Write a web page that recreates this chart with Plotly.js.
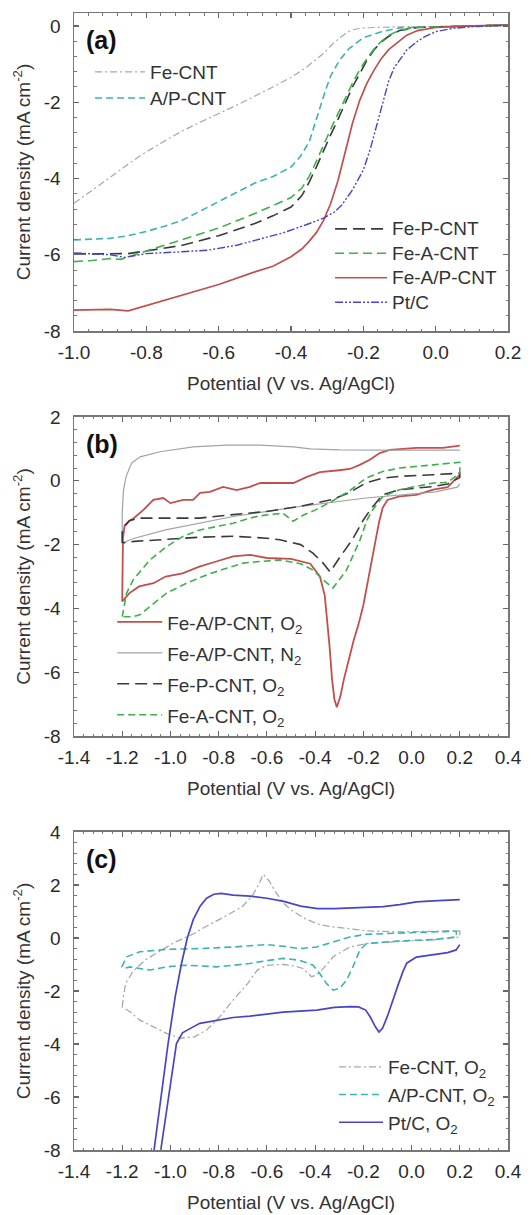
<!DOCTYPE html>
<html><head><meta charset="utf-8">
<script src="https://cdn.plot.ly/plotly-3.0.1.min.js"></script>
<style>html,body{margin:0;padding:0;background:#fff;} #chart{width:531px;height:1215px;}</style>
</head><body><div id="chart"></div>
<script>
// ---------- Tick labels ----------
const xTicksA = [-1.0,-0.8,-0.6,-0.4,-0.2,0.0,0.2];
const xTickTextA = ['-1.0','-0.8','-0.6','-0.4','-0.2','0.0','0.2'];
const yTicksA = [0,-2,-4,-6,-8];
const yTickTextA = ['0','-2','-4','-6','-8'];
const xTicksBC = [-1.4,-1.2,-1.0,-0.8,-0.6,-0.4,-0.2,0.0,0.2,0.4];
const xTickTextBC = ['-1.4','-1.2','-1.0','-0.8','-0.6','-0.4','-0.2','0.0','0.2','0.4'];
const yTicksB = [2,0,-2,-4,-6,-8];
const yTickTextB = ['2','0','-2','-4','-6','-8'];
const yTicksC = [4,2,0,-2,-4,-6,-8];
const yTickTextC = ['4','2','0','-2','-4','-6','-8'];

// ---------- Panel (a): LSV curves ----------
const aFeCNT_V = [-1.0,-0.95,-0.9,-0.85,-0.8,-0.75,-0.7,-0.65,-0.6,-0.54,-0.45,-0.4,-0.36,-0.33,-0.31,-0.29,-0.265,-0.245,-0.23,-0.2,-0.15,-0.1,0,0.1,0.2];
const aFeCNT_J = [-4.65,-4.32,-3.97,-3.62,-3.3,-3.02,-2.75,-2.52,-2.3,-2.03,-1.6,-1.35,-1.1,-0.88,-0.72,-0.52,-0.31,-0.17,-0.1,-0.05,-0.03,-0.02,-0.02,0,0.02];

const aAPCNT_V = [-1.0,-0.9,-0.85,-0.8,-0.75,-0.7,-0.65,-0.6,-0.54,-0.5,-0.45,-0.4,-0.375,-0.35,-0.335,-0.32,-0.305,-0.29,-0.265,-0.24,-0.2,-0.15,-0.1,0,0.1,0.2];
const aAPCNT_J = [-5.61,-5.57,-5.5,-5.39,-5.25,-5.09,-4.85,-4.6,-4.3,-4.12,-3.95,-3.7,-3.43,-3.05,-2.6,-2.12,-1.7,-1.3,-0.89,-0.6,-0.31,-0.15,-0.05,-0.02,0,0.02];

const aFePCNT_V = [-1.0,-0.9,-0.85,-0.8,-0.7,-0.6,-0.5,-0.45,-0.4,-0.37,-0.35,-0.33,-0.31,-0.29,-0.27,-0.25,-0.23,-0.21,-0.19,-0.17,-0.15,-0.13,-0.1,-0.05,0,0.1,0.2];
const aFePCNT_J = [-5.98,-5.98,-5.97,-5.9,-5.75,-5.5,-5.18,-4.98,-4.75,-4.45,-4.1,-3.7,-3.25,-2.85,-2.45,-2.0,-1.6,-1.25,-0.9,-0.62,-0.42,-0.27,-0.12,-0.04,-0.02,0,0.02];

const aFeACNT_V = [-1.0,-0.95,-0.9,-0.87,-0.8,-0.7,-0.6,-0.5,-0.45,-0.4,-0.37,-0.35,-0.33,-0.31,-0.29,-0.27,-0.25,-0.23,-0.21,-0.19,-0.17,-0.15,-0.13,-0.1,-0.05,0,0.1,0.2];
const aFeACNT_J = [-6.18,-6.15,-6.1,-6.12,-5.9,-5.6,-5.3,-4.92,-4.72,-4.5,-4.25,-3.95,-3.55,-3.1,-2.7,-2.3,-1.9,-1.5,-1.15,-0.85,-0.6,-0.4,-0.25,-0.11,-0.04,-0.02,0,0.03];

const aFeAPCNT_V = [-1.0,-0.9,-0.85,-0.8,-0.7,-0.6,-0.5,-0.45,-0.4,-0.37,-0.35,-0.33,-0.31,-0.29,-0.27,-0.25,-0.23,-0.21,-0.19,-0.17,-0.15,-0.13,-0.1,-0.08,-0.05,0,0.1,0.2];
const aFeAPCNT_J = [-7.45,-7.43,-7.47,-7.33,-7.05,-6.78,-6.45,-6.3,-6.05,-5.85,-5.65,-5.42,-5.1,-4.65,-4.05,-3.3,-2.55,-1.95,-1.5,-1.15,-0.85,-0.62,-0.38,-0.24,-0.12,-0.04,0,0.02];

const aPtC_V = [-1.0,-0.95,-0.9,-0.86,-0.8,-0.7,-0.63,-0.55,-0.49,-0.42,-0.36,-0.31,-0.28,-0.26,-0.23,-0.2,-0.18,-0.16,-0.145,-0.13,-0.115,-0.1,-0.08,-0.05,-0.03,0,0.05,0.1,0.2];
const aPtC_J = [-5.95,-5.97,-6.0,-6.07,-5.97,-5.92,-5.88,-5.75,-5.6,-5.42,-5.22,-5.04,-4.88,-4.7,-4.3,-3.78,-3.2,-2.5,-1.9,-1.45,-1.1,-0.9,-0.63,-0.4,-0.28,-0.15,-0.06,-0.02,0.02];

// ---------- Panel (b): CV loops (forward / reverse sweeps) ----------
const bFeAPCNT_O2_fwdV = [-1.2,-1.2,-1.197,-1.19,-1.17,-1.154,-1.113,-1.071,-1.03,-1.0,-0.947,-0.906,-0.877,-0.836,-0.782,-0.725,-0.67,-0.628,-0.558,-0.49,-0.434,-0.38,-0.3,-0.256,-0.215,-0.173,-0.132,-0.09,0.02,0.13,0.2];
const bFeAPCNT_O2_fwdJ = [-3.78,-2.6,-1.8,-1.4,-1.25,-1.18,-0.92,-0.6,-0.54,-0.7,-0.6,-0.6,-0.38,-0.35,-0.19,-0.29,-0.19,-0.07,-0.07,-0.07,0.12,0.27,0.33,0.37,0.5,0.66,0.87,0.97,1.03,1.03,1.1];
const bFeAPCNT_O2_revV = [0.2,0.15,0.09,0.02,-0.05,-0.1,-0.12,-0.135,-0.15,-0.172,-0.2,-0.22,-0.24,-0.26,-0.28,-0.295,-0.31,-0.32,-0.33,-0.34,-0.35,-0.36,-0.38,-0.42,-0.5,-0.6,-0.67,-0.74,-0.81,-0.88,-0.95,-1.02,-1.07,-1.13,-1.17,-1.2];
const bFeAPCNT_O2_revJ = [0.19,-0.2,-0.28,-0.44,-0.49,-0.6,-0.85,-1.3,-1.9,-2.8,-3.9,-4.5,-5.0,-5.6,-6.2,-6.75,-7.1,-6.85,-6.2,-5.2,-4.3,-3.6,-3.0,-2.6,-2.45,-2.42,-2.32,-2.37,-2.53,-2.69,-2.9,-3.0,-3.21,-3.31,-3.52,-3.78];

const bFeAPCNT_N2_fwdV = [-1.2,-1.2,-1.195,-1.185,-1.17,-1.16,-1.126,-1.043,-0.906,-0.766,-0.628,-0.49,-0.42,-0.3,-0.1,0.1,0.2];
const bFeAPCNT_N2_fwdJ = [-1.95,-1.0,-0.3,0.1,0.4,0.56,0.75,0.91,1.06,1.12,1.12,1.06,1.0,0.97,0.96,0.96,0.96];
const bFeAPCNT_N2_revV = [0.2,0.19,0.1,-0.19,-0.46,-0.74,-1.02,-1.15,-1.2];
const bFeAPCNT_N2_revJ = [-0.1,-0.2,-0.35,-0.54,-0.8,-1.12,-1.54,-1.8,-1.95];

const bFePCNT_O2_V = [-1.2,-1.2,-1.19,-1.17,-1.13,-1.0,-0.88,-0.74,-0.6,-0.46,-0.33,-0.26,-0.19,-0.12,-0.05,0.09,0.2,
  0.2,0.15,0.09,0.02,-0.05,-0.12,-0.17,-0.2,-0.247,-0.297,-0.338,-0.37,-0.409,-0.46,-0.546,-0.6,-0.74,-0.88,-1.02,-1.15,-1.2];
const bFePCNT_O2_J = [-1.95,-1.6,-1.43,-1.25,-1.17,-1.17,-1.17,-1.06,-0.96,-0.8,-0.59,-0.38,-0.07,0.08,0.14,0.19,0.24,
  0.1,-0.1,-0.18,-0.23,-0.28,-0.44,-0.9,-1.23,-1.86,-2.39,-2.86,-2.55,-2.27,-2.0,-1.85,-1.8,-1.74,-1.77,-1.83,-1.9,-1.95];

const bFeACNT_O2_V = [-1.2,-1.19,-1.182,-1.154,-1.085,-1.016,-0.947,-0.878,-0.809,-0.74,-0.671,-0.629,-0.58,-0.533,-0.491,-0.45,-0.4,-0.33,-0.26,-0.19,-0.12,-0.05,0.09,0.2,
  0.2,0.15,0.09,0.02,-0.05,-0.12,-0.16,-0.185,-0.214,-0.27,-0.326,-0.367,-0.409,-0.46,-0.546,-0.629,-0.698,-0.767,-0.85,-0.933,-1.016,-1.085,-1.127,-1.154,-1.2];
const bFeACNT_O2_J = [-4.26,-3.9,-3.52,-3.1,-2.48,-2.06,-1.74,-1.54,-1.43,-1.33,-1.17,-1.1,-1.05,-1.02,-1.27,-1.08,-0.92,-0.64,-0.33,0.08,0.29,0.4,0.5,0.58,
  0.24,-0.05,-0.07,-0.18,-0.28,-0.5,-0.9,-1.23,-1.86,-2.8,-3.36,-3.1,-2.8,-2.6,-2.48,-2.53,-2.58,-2.74,-2.95,-3.21,-3.52,-3.94,-4.2,-4.26,-4.26];

// ---------- Panel (c): CV loops ----------
const cFeCNT_V = [-1.2,-1.195,-1.185,-1.155,-1.1,-1.043,-0.98,-0.906,-0.84,-0.766,-0.7,-0.66,-0.635,-0.615,-0.59,-0.565,-0.53,-0.49,-0.44,-0.38,-0.325,-0.256,-0.187,-0.049,0.09,0.2,
  0.2,0.09,-0.049,-0.187,-0.256,-0.325,-0.36,-0.394,-0.415,-0.45,-0.49,-0.53,-0.6,-0.64,-0.68,-0.74,-0.795,-0.85,-0.9,-0.96,-1.016,-1.071,-1.127,-1.168,-1.2];
const cFeCNT_J = [-2.6,-2.2,-1.7,-1.25,-0.8,-0.5,-0.15,0.15,0.5,0.85,1.2,1.6,2.0,2.4,2.15,1.75,1.3,1.0,0.72,0.5,0.42,0.35,0.27,0.23,0.24,0.27,
  0.04,-0.07,-0.13,-0.21,-0.34,-0.71,-1.09,-1.4,-1.46,-1.15,-1.05,-1.0,-1.03,-1.21,-1.72,-2.34,-2.97,-3.47,-3.73,-3.78,-3.6,-3.35,-3.1,-2.78,-2.6];

const cAPCNT_V = [-1.202,-1.182,-1.127,-1.016,-0.878,-0.74,-0.602,-0.533,-0.464,-0.394,-0.325,-0.256,-0.187,-0.049,0.089,0.186,
  0.186,0.089,-0.049,-0.187,-0.215,-0.243,-0.27,-0.298,-0.325,-0.353,-0.381,-0.408,-0.464,-0.533,-0.602,-0.671,-0.74,-0.809,-0.878,-0.947,-1.016,-1.085,-1.127,-1.168,-1.196,-1.202];
const cAPCNT_J = [-1.09,-0.71,-0.52,-0.43,-0.4,-0.34,-0.25,-0.31,-0.4,-0.34,-0.15,0.04,0.14,0.19,0.23,0.26,
  0.04,-0.06,-0.11,-0.21,-0.46,-1.09,-1.59,-1.9,-1.97,-1.72,-1.34,-1.03,-0.84,-0.77,-0.86,-0.96,-1.03,-1.09,-1.05,-1.03,-1.09,-1.21,-1.15,-1.09,-1.15,-1.09];

const cPtC_fwdV = [-1.068,-1.04,-1.01,-0.98,-0.955,-0.93,-0.905,-0.877,-0.85,-0.82,-0.79,-0.74,-0.67,-0.6,-0.53,-0.46,-0.39,-0.32,-0.256,-0.187,-0.118,-0.049,0.02,0.09,0.2];
const cPtC_fwdJ = [-8,-6,-4,-2.2,-1.0,0.0,0.7,1.2,1.5,1.65,1.68,1.62,1.58,1.5,1.38,1.2,1.11,1.11,1.14,1.17,1.18,1.26,1.36,1.4,1.45];
const cPtC_revV = [0.2,0.185,0.15,0.1,0.02,-0.02,-0.035,-0.055,-0.077,-0.1,-0.12,-0.135,-0.15,-0.17,-0.19,-0.22,-0.255,-0.32,-0.393,-0.464,-0.533,-0.6,-0.67,-0.74,-0.809,-0.878,-0.919,-0.95,-0.975,-0.995,-1.016,-1.04];
const cPtC_revJ = [-0.25,-0.45,-0.55,-0.62,-0.72,-0.95,-1.25,-1.75,-2.35,-2.95,-3.4,-3.55,-3.35,-3.0,-2.72,-2.6,-2.59,-2.62,-2.72,-2.75,-2.8,-2.87,-2.95,-3.0,-3.1,-3.22,-3.42,-3.58,-3.98,-5.2,-6.5,-8];

// ---------- Styles ----------
const RED = '#c0504d', GREEN = '#3db04a', TEAL = '#3fb3b3', BLUE = '#4646c4', DARK = '#3a3a3a', LGRAY = '#a8a8a8';
const LBL = t => '<span style="font-size:19px">' + t + '</span>';
const sweep = (a, b) => a.concat([null], b);

function tr(x, y, name, xa, ya, leg, color, dash, width) {
  return {x: x, y: y, name: LBL(name), xaxis: xa, yaxis: ya, legend: leg,
    type: 'scatter', mode: 'lines', connectgaps: false, line: {color: color, dash: dash, width: width}};
}

const traces = [
  tr(aFeCNT_V, aFeCNT_J, 'Fe-CNT', 'x', 'y', 'legend', LGRAY, '7px,3px,2px,3px', 1.2),
  tr(aAPCNT_V, aAPCNT_J, 'A/P-CNT', 'x', 'y', 'legend', TEAL, '7px,4px', 1.6),
  tr(aFePCNT_V, aFePCNT_J, 'Fe-P-CNT', 'x', 'y', 'legend2', DARK, '12px,6px', 1.6),
  tr(aFeACNT_V, aFeACNT_J, 'Fe-A-CNT', 'x', 'y', 'legend2', GREEN, '9px,5px', 1.6),
  tr(aFeAPCNT_V, aFeAPCNT_J, 'Fe-A/P-CNT', 'x', 'y', 'legend2', RED, 'solid', 1.7),
  tr(aPtC_V, aPtC_J, 'Pt/C', 'x', 'y', 'legend2', BLUE, '8px,2px,2px,2px,2px,2px', 1.4),

  tr(sweep(bFeAPCNT_O2_fwdV, bFeAPCNT_O2_revV), sweep(bFeAPCNT_O2_fwdJ, bFeAPCNT_O2_revJ), 'Fe-A/P-CNT, O<sub>2</sub>', 'x2', 'y2', 'legend3', RED, 'solid', 1.8),
  tr(sweep(bFeAPCNT_N2_fwdV, bFeAPCNT_N2_revV), sweep(bFeAPCNT_N2_fwdJ, bFeAPCNT_N2_revJ), 'Fe-A/P-CNT, N<sub>2</sub>', 'x2', 'y2', 'legend3', '#a3a3a3', 'solid', 1.2),
  tr(bFePCNT_O2_V, bFePCNT_O2_J, 'Fe-P-CNT, O<sub>2</sub>', 'x2', 'y2', 'legend3', DARK, '12px,6px', 1.6),
  tr(bFeACNT_O2_V, bFeACNT_O2_J, 'Fe-A-CNT, O<sub>2</sub>', 'x2', 'y2', 'legend3', GREEN, '7px,4px', 1.6),

  tr(cFeCNT_V, cFeCNT_J, 'Fe-CNT, O<sub>2</sub>', 'x3', 'y3', 'legend4', LGRAY, '7px,3px,2px,3px', 1.3),
  tr(cAPCNT_V, cAPCNT_J, 'A/P-CNT, O<sub>2</sub>', 'x3', 'y3', 'legend4', TEAL, '7px,4px', 1.6),
  tr(sweep(cPtC_fwdV, cPtC_revV), sweep(cPtC_fwdJ, cPtC_revJ), 'Pt/C, O<sub>2</sub>', 'x3', 'y3', 'legend4', BLUE, 'solid', 1.7)
];

const FONT = '"Liberation Sans", Arial, sans-serif';
function xax(range, vals, text, anchor, minorD) {
  return {range: range, anchor: anchor, domain: [0, 1], showline: true, linecolor: '#777', linewidth: 1.5,
    mirror: 'ticks', ticks: 'inside', ticklen: 5, tickwidth: 1.2, tickcolor: '#666',
    minor: {ticks: 'inside', ticklen: 2.5, tickwidth: 1, tickcolor: '#777', tickmode: 'linear', tick0: 0, dtick: minorD, showgrid: false},
    showgrid: false, zeroline: false, tickmode: 'array', tickvals: vals, ticktext: text,
    tickfont: {size: 19, color: '#2a2a2a'}, ticklabelstandoff: 4,
    title: {text: 'Potential (V vs. Ag/AgCl)', font: {size: 19, color: '#333'}, standoff: 14}};
}
function yax(range, vals, text, anchor, domain) {
  return {range: range, anchor: anchor, domain: domain, showline: true, linecolor: '#777', linewidth: 1.5,
    mirror: 'ticks', ticks: 'inside', ticklen: 5, tickwidth: 1.2, tickcolor: '#666',
    minor: {ticks: 'inside', ticklen: 2.5, tickwidth: 1, tickcolor: '#777', tickmode: 'linear', tick0: 0, dtick: 0.4, showgrid: false},
    showgrid: false, zeroline: false, tickmode: 'array', tickvals: vals, ticktext: text,
    tickfont: {size: 19, color: '#2a2a2a'}, ticklabelstandoff: 8,
    title: {text: 'Current density (mA cm<sup>-2</sup>)', font: {size: 19, color: '#333'}, standoff: 8}};
}
function leg(x, y, iw, fs) {
  return {x: x, y: y, xanchor: 'left', yanchor: 'top', bgcolor: 'rgba(0,0,0,0)', borderwidth: 0,
    font: {size: fs, color: '#333', family: FONT}, itemwidth: iw, traceorder: 'normal'};
}
function panelLabel(t, xr, yr) {
  return {text: '<b>' + t + '</b>', xref: xr + ' domain', yref: yr + ' domain', x: 0.022, y: 0.965,
    xanchor: 'left', yanchor: 'top', showarrow: false, font: {size: 25, color: '#111', family: FONT}};
}

const layout = {
  width: 531, height: 1215,
  margin: {l: 74, r: 23, t: 13, b: 65},
  paper_bgcolor: '#fff', plot_bgcolor: '#fff',
  font: {family: FONT, size: 19, color: '#333'},
  showlegend: true,
  xaxis: xax([-1.0, 0.2], xTicksA, xTickTextA, 'y', 0.04),
  yaxis: yax([-8, 0.34], yTicksA, yTickTextA, 'x', [0.7203, 1]),
  xaxis2: xax([-1.4, 0.4], xTicksBC, xTickTextBC, 'y2', 0.04),
  yaxis2: yax([-8, 2], yTicksB, yTickTextB, 'x2', [0.3641, 0.6447]),
  xaxis3: xax([-1.4, 0.4], xTicksBC, xTickTextBC, 'y3', 0.04),
  yaxis3: yax([-8, 4], yTicksC, yTickTextC, 'x3', [0, 0.2797]),
  legend: leg(0.037, 0.964, 50, 17.7),
  legend2: leg(0.590, 0.8253, 52, 16.5),
  legend3: leg(0.088, 0.4825, 45, 21.5),
  legend4: leg(0.599, 0.0897, 44, 19.0),
  annotations: [panelLabel('(a)', 'x', 'y'), panelLabel('(b)', 'x2', 'y2'), panelLabel('(c)', 'x3', 'y3')]
};

Plotly.newPlot('chart', traces, layout, {staticPlot: true, displayModeBar: false});
</script></body></html>
